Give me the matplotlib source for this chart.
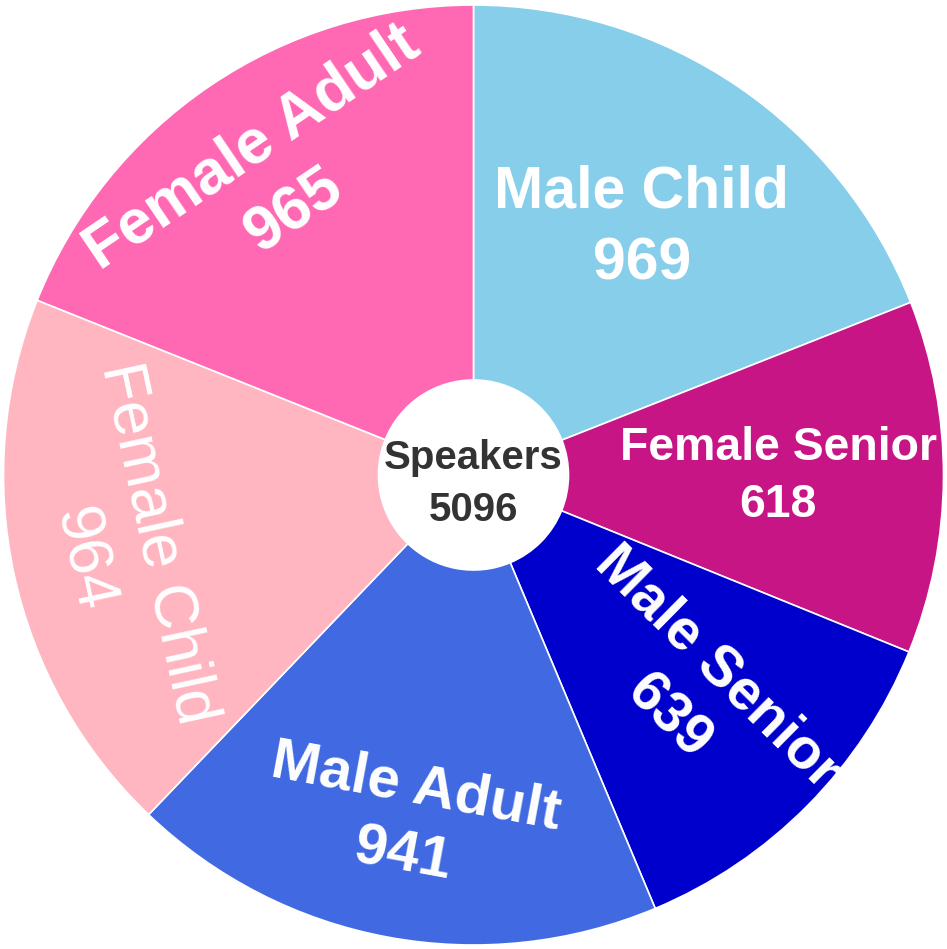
import numpy as np
import matplotlib
matplotlib.use("Agg")
import matplotlib.pyplot as plt

plt.rcParams['font.family'] = ['Liberation Sans', 'DejaVu Sans']

# ---------------------------- data ----------------------------
labels = ["Male Child", "Female Senior", "Male Senior", "Male Adult", "Female Child", "Female Adult"]
counts = [969, 618, 639, 941, 964, 965]
colors = ["#87CEEB", "#C71585", "#0000CD", "#4169E1", "#FFB6C1", "#FF69B4"]

# label styling (placement tuned to the reference)
label_r = [0.636, 0.648, 0.657, 0.75, 0.77, 0.76]
label_mode = ["h", "h", "radial", "tangent", "tangent", "tangent"]
label_size = [42.5, 33.4, 41, 42, 45, 45]
label_weight = ["bold", "bold", "bold", "bold", "normal", "bold"]

# ---------------------------- plot ----------------------------
fig = plt.figure(figsize=(9.47, 9.49), dpi=100)
ax = fig.add_axes([0, 0, 1, 1])

R = 470.0
cx, cy = 473.5, 474.0
wedges, _ = ax.pie(counts, colors=colors, startangle=90, counterclock=False,
                   radius=1.0, wedgeprops=dict(width=1.0 - 95 / R, edgecolor="white", linewidth=1.2))

for w, lab, n, r, mode, fs, fw in zip(wedges, labels, counts, label_r, label_mode, label_size, label_weight):
    mid = (w.theta1 + w.theta2) / 2.0
    x = r * np.cos(np.radians(mid))
    y = r * np.sin(np.radians(mid))
    if mode == "h":
        rot = 0
    elif mode == "radial":
        rot = mid
    else:
        rot = mid + 90 if np.sin(np.radians(mid)) < 0 else mid - 90
    ax.text(x, y, f"{lab}\n{n}", ha="center", va="center", multialignment="center",
            rotation=rot, rotation_mode="anchor", color="white", fontsize=fs,
            fontweight=fw, linespacing=1.38)

# total in the hole
ax.text(0, -9 / R, f"Speakers\n{sum(counts)}", ha="center", va="center", multialignment="center",
        color="#333333", fontsize=29, fontweight="bold", linespacing=1.45)

ax.set_xlim(-cx / R, (947 - cx) / R)
ax.set_ylim(-cy / R, (949 - cy) / R)
ax.set_aspect("auto")
ax.axis("off")

fig.savefig("out.png", dpi=100, facecolor="white")
